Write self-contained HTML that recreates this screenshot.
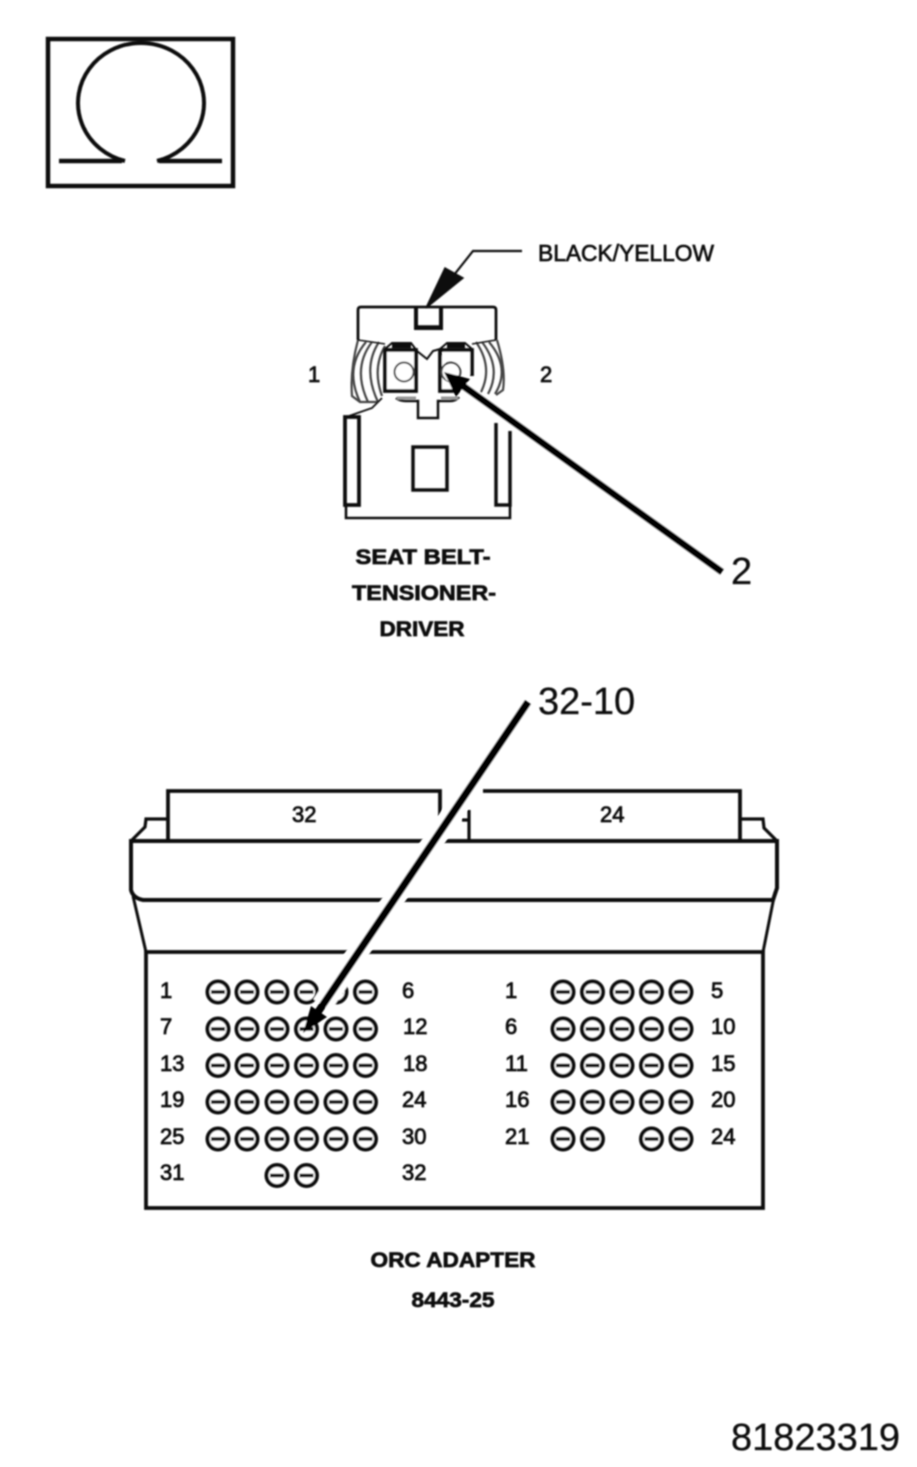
<!DOCTYPE html>
<html><head><meta charset="utf-8">
<style>
html,body{margin:0;padding:0;background:#fff;width:917px;height:1467px;overflow:hidden}
svg{display:block}
text{font-family:"Liberation Sans",sans-serif;fill:#111}
.b{font-weight:bold;font-size:21px;text-anchor:middle;stroke:#111;stroke-width:.7}
.n{font-size:22px;stroke:#111;stroke-width:.8}
.c{font-size:38px;fill:#111;stroke:#111;stroke-width:.3}
</style></head><body>
<svg width="917" height="1467" viewBox="0 0 917 1467" xmlns="http://www.w3.org/2000/svg">
<defs>
<filter id="bl" x="-2%" y="-2%" width="104%" height="104%"><feGaussianBlur stdDeviation="0.75"/></filter>
<g id="p"><circle r="10.5" fill="#fff" stroke="#111" stroke-width="4"/><path d="M-7 0H7" stroke="#111" stroke-width="3.6"/></g>
</defs>
<g filter="url(#bl)" fill="none" stroke="#111" stroke-linejoin="miter">
<!-- omega -->
<rect x="48" y="39" width="185" height="147" stroke-width="4.500"/>
<path d="M59 161H122" stroke-width="4.500"/>
<path d="M159 161H222" stroke-width="4.500"/>
<path d="M125 161A63 60 0 1 1 157 161" stroke-width="4"/>

<!-- connector -->
<path d="M522 251H473L446 285" stroke-width="2.200"/>
<path d="M426 308L445 268L463 278Z" fill="#111" stroke="#111" stroke-width="1.5"/>
<path d="M358 340V310Q358 307 361 307H493Q496 307 496 310V340" stroke-width="2.800"/>
<path d="M416 307V328H441V307" stroke-width="4"/>
<path d="M416 327H441" stroke-width="3.500"/>
<!-- springs -->
<g stroke-width="2.200" stroke="#444">
<path d="M366 342Q344 368 360 402"/><path d="M372 342Q352 368 368 402"/><path d="M379 342Q362 368 378 402"/><path d="M385 346Q372 368 382 396"/>
<path d="M358 340Q350 370 352 396L360 402H378"/>
<path d="M489 342Q511 368 495 394"/><path d="M482 342Q502 368 488 394"/><path d="M476 342Q494 368 480 394"/>
<path d="M497 340Q506 370 503 390L496 395"/>
</g>
<path d="M358 340L385 344M496 340L472 344" stroke-width="1.5"/>
<path d="M349 416L372 408L382 398" stroke-width="1.8"/>
<!-- terminals -->
<path d="M385 350V391H416V350Z" fill="#fff" stroke-width="3.800"/>
<path d="M440 350V391H456M440 350H472V376" fill="#fff" stroke-width="3.800"/>
<path d="M392 346H411M447 346H465" stroke-width="4.500"/>
<path d="M385 349L392 343H411L417 351L427 359L433 351L440 349M440 349L447 343H465L472 349" stroke-width="2"/>
<circle cx="404" cy="372" r="9.500" stroke-width="2" stroke="#444"/>
<circle cx="451" cy="372" r="9.500" stroke-width="2" stroke="#444"/>
<path d="M396 398Q400 401 406 401H418V418H438V401H450Q456 401 459 397" stroke-width="2.500"/>
<path d="M397 398H416M441 398H458" stroke="#999" stroke-width="3"/>
<!-- lower body -->
<path d="M345 417H359V505H345Z" stroke-width="3.800"/>
<path d="M496 423V505H510V431" stroke-width="3.500"/>
<rect x="413" y="447" width="34" height="43" stroke-width="3.500"/>
<path d="M346 505V518H510V505" stroke-width="2.600"/>
<path d="M448 375L722 572" stroke="#fff" stroke-width="10"/>
<path d="M452 378L722 572" stroke="#000" stroke-width="7"/>
<path d="M444 372L470 379L456 397Z" fill="#000" stroke="none"/>

<!-- adapter -->
<path d="M168 841V791H440V816" stroke-width="3.800"/>
<path d="M483 791H740V841" stroke-width="3.800"/>
<path d="M469 810V841M462 820H469" stroke-width="3.200"/>
<path d="M168 819H146L145 827L132 840" stroke-width="3.200"/>
<path d="M740 819H763L764 828L776 840" stroke-width="3.200"/>
<path d="M131 841H777V888L773 900H143Q133 898 131 890Z" stroke-width="4"/>
<path d="M133 896L146 952M775 892L763 952" stroke-width="3"/>
<rect x="146" y="952" width="617" height="256" stroke-width="3.800"/>
</g>
<g filter="url(#bl)">
<use href="#p" x="218" y="992"/><use href="#p" x="247" y="992"/><use href="#p" x="277" y="992"/><use href="#p" x="306.500" y="992"/><use href="#p" x="336" y="992"/><use href="#p" x="365.500" y="992"/>
<use href="#p" x="218" y="1029"/><use href="#p" x="247" y="1029"/><use href="#p" x="277" y="1029"/><use href="#p" x="306.500" y="1029"/><use href="#p" x="336" y="1029"/><use href="#p" x="365.500" y="1029"/>
<use href="#p" x="218" y="1065.500"/><use href="#p" x="247" y="1065.500"/><use href="#p" x="277" y="1065.500"/><use href="#p" x="306.500" y="1065.500"/><use href="#p" x="336" y="1065.500"/><use href="#p" x="365.500" y="1065.500"/>
<use href="#p" x="218" y="1102"/><use href="#p" x="247" y="1102"/><use href="#p" x="277" y="1102"/><use href="#p" x="306.500" y="1102"/><use href="#p" x="336" y="1102"/><use href="#p" x="365.500" y="1102"/>
<use href="#p" x="218" y="1139"/><use href="#p" x="247" y="1139"/><use href="#p" x="277" y="1139"/><use href="#p" x="306.500" y="1139"/><use href="#p" x="336" y="1139"/><use href="#p" x="365.500" y="1139"/>
<use href="#p" x="277" y="1175.500"/><use href="#p" x="306.500" y="1175.500"/>

<use href="#p" x="563" y="992"/><use href="#p" x="592.500" y="992"/><use href="#p" x="622" y="992"/><use href="#p" x="651.500" y="992"/><use href="#p" x="681" y="992"/>
<use href="#p" x="563" y="1029"/><use href="#p" x="592.500" y="1029"/><use href="#p" x="622" y="1029"/><use href="#p" x="651.500" y="1029"/><use href="#p" x="681" y="1029"/>
<use href="#p" x="563" y="1065.500"/><use href="#p" x="592.500" y="1065.500"/><use href="#p" x="622" y="1065.500"/><use href="#p" x="651.500" y="1065.500"/><use href="#p" x="681" y="1065.500"/>
<use href="#p" x="563" y="1102"/><use href="#p" x="592.500" y="1102"/><use href="#p" x="622" y="1102"/><use href="#p" x="651.500" y="1102"/><use href="#p" x="681" y="1102"/>
<use href="#p" x="563" y="1139"/><use href="#p" x="592.500" y="1139"/><use href="#p" x="651.500" y="1139"/><use href="#p" x="681" y="1139"/>

<path d="M528 702L322 1005" fill="none" stroke="#fff" stroke-width="21"/>
<path d="M528 702L318 1012" fill="none" stroke="#000" stroke-width="7.500"/>
<path d="M303 1033L311 1006L327 1017Z" fill="#000"/>

<text x="538" y="261" font-size="23" textLength="176" lengthAdjust="spacingAndGlyphs" style="stroke:#111;stroke-width:.7">BLACK/YELLOW</text>
<text class="n" x="308" y="382">1</text>
<text class="n" x="540" y="382">2</text>
<text class="b" x="423" y="564" textLength="135" lengthAdjust="spacingAndGlyphs">SEAT BELT-</text>
<text class="b" x="424" y="600" textLength="144" lengthAdjust="spacingAndGlyphs">TENSIONER-</text>
<text class="b" x="422" y="636" textLength="85" lengthAdjust="spacingAndGlyphs">DRIVER</text>
<text class="b" x="453" y="1267" textLength="165" lengthAdjust="spacingAndGlyphs">ORC ADAPTER</text>
<text class="b" x="453" y="1307" textLength="83" lengthAdjust="spacingAndGlyphs">8443-25</text>
<text class="c" x="731" y="584">2</text>
<text class="c" x="538" y="714">32-10</text>
<text class="c" x="731" y="1450">81823319</text>

<text class="n" x="292" y="822">32</text>
<text class="n" x="600" y="822">24</text>

<text class="n" x="160" y="998">1</text><text class="n" x="160" y="1034">7</text><text class="n" x="160" y="1071">13</text><text class="n" x="160" y="1107">19</text><text class="n" x="160" y="1144">25</text><text class="n" x="160" y="1180">31</text>
<text class="n" x="402" y="998">6</text><text class="n" x="403" y="1034">12</text><text class="n" x="403" y="1071">18</text><text class="n" x="402" y="1107">24</text><text class="n" x="402" y="1144">30</text><text class="n" x="402" y="1180">32</text>
<text class="n" x="505" y="998">1</text><text class="n" x="505" y="1034">6</text><text class="n" x="505" y="1071">11</text><text class="n" x="505" y="1107">16</text><text class="n" x="505" y="1144">21</text>
<text class="n" x="711" y="998">5</text><text class="n" x="711" y="1034">10</text><text class="n" x="711" y="1071">15</text><text class="n" x="711" y="1107">20</text><text class="n" x="711" y="1144">24</text>
</g>
</svg>
</body></html>
